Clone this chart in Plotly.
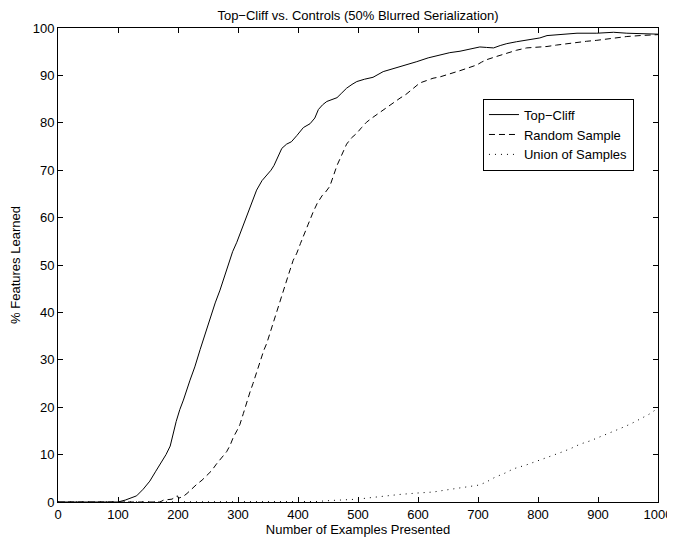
import plotly.graph_objects as go

top_x = [0, 100, 112, 122, 131, 142, 153, 163, 173, 180, 187, 190, 197, 203, 209, 220, 228, 237, 245, 253,
         262, 270, 277, 284, 291, 298, 306, 314, 322, 331, 340, 348, 355, 360, 366, 373, 381, 389, 398,
         409, 420, 428, 434, 441, 448, 459, 465, 473, 481, 490, 498, 511, 525, 542, 556, 570, 584, 598,
         617, 637, 653, 670, 687, 703, 714, 726, 737, 748, 764, 781, 792, 803, 815, 837, 865, 898, 926,
         948, 970, 1000]
top_y = [0, 0, 0.4, 0.8, 1.3, 2.7, 4.4, 6.5, 8.5, 10.0, 11.8, 13.5, 17.0, 19.5, 21.5, 25.7, 28.5, 32.2,
         35.5, 38.8, 42.0, 44.7, 47.5, 50.4, 52.8, 54.8, 57.4, 60.0, 63.0, 65.8, 67.8, 69.0, 70.0, 71.0,
         72.6, 74.6, 75.5, 76.0, 77.3, 79.0, 79.8, 81.0, 82.8, 83.8, 84.5, 85.0, 85.3, 86.3, 87.3, 88.1,
         88.7, 89.2, 89.6, 90.8, 91.3, 91.9, 92.4, 92.9, 93.7, 94.4, 94.8, 95.1, 95.6, 96.0, 95.9, 95.8,
         96.3, 96.7, 97.1, 97.5, 97.7, 97.9, 98.4, 98.6, 98.9, 98.9, 99.1, 98.9, 98.8, 98.7]

rand_x = [0, 170, 176, 190, 196, 199, 201, 209, 215, 223, 231, 240, 248, 256, 264, 272, 281, 287, 292,
          298, 303, 309, 315, 320, 325, 331, 337, 343, 348, 356, 364, 371, 378, 385, 392, 398, 404, 409,
          417, 425, 432, 440, 446, 453, 459, 465, 470, 476, 481, 489, 498, 506, 514, 522, 531, 539, 548,
          559, 570, 580, 589, 596, 603, 614, 625, 637, 648, 657, 665, 670, 684, 698, 706, 714, 731, 748,
          764, 781, 798, 815, 831, 848, 865, 881, 898, 915, 931, 948, 970, 992, 1000]
rand_y = [0, 0, 0.4, 0.6, 1.1, 1.3, 0.8, 1.2, 1.8, 2.8, 3.7, 4.6, 5.5, 6.6, 8.0, 9.3, 10.6, 12.0, 13.6,
          15.0, 16.3, 18.7, 21.4, 23.2, 25.0, 27.5, 29.8, 32.0, 33.5, 36.8, 39.8, 42.6, 45.4, 48.3, 51.0,
          52.5, 54.5, 56.2, 58.6, 61.1, 63.0, 64.6, 65.4, 66.6, 69.0, 71.0, 72.4, 74.3, 75.5, 76.8, 77.8,
          79.0, 80.1, 80.9, 81.7, 82.5, 83.4, 84.3, 85.2, 86.0, 87.0, 87.8, 88.4, 88.9, 89.4, 89.7, 90.1,
          90.4, 90.8, 91.0, 91.6, 92.2, 92.8, 93.3, 94.0, 94.7, 95.3, 95.8, 95.9, 96.1, 96.4, 96.7, 97.0,
          97.2, 97.4, 97.7, 97.9, 98.2, 98.4, 98.6, 98.6]

union_x = [0, 400, 430, 453, 480, 500, 520, 545, 570, 600, 625, 645, 664, 685, 703, 715, 728, 745, 759,
           780, 798, 818, 837, 855, 870, 887, 903, 920, 937, 955, 970, 985, 1000]
union_y = [0, 0, 0.1, 0.3, 0.4, 0.6, 0.9, 1.3, 1.6, 1.9, 2.1, 2.5, 2.9, 3.2, 3.6, 4.3, 5.2, 6.1, 7.0,
           7.8, 8.6, 9.5, 10.4, 11.3, 12.2, 12.9, 13.7, 14.6, 15.5, 16.5, 17.5, 18.5, 19.8]

series_names = ["Top\u2212Cliff", "Random Sample", "Union of Samples"]
x_ticks = list(range(0, 1001, 100))
y_ticks = list(range(0, 101, 10))

FONT = "Liberation Sans, Arial, Helvetica, sans-serif"
FS = 13

# the page body has an 8px default margin, so the figure is sized to fit inside the window
W, H = 667, 534

fig = go.Figure()
fig.add_trace(go.Scatter(x=top_x, y=top_y, mode="lines", name=series_names[0],
                         line=dict(color="black", width=1)))
fig.add_trace(go.Scatter(x=rand_x, y=rand_y, mode="lines", name=series_names[1],
                         line=dict(color="black", width=1, dash="6px,4px")))
fig.add_trace(go.Scatter(x=union_x, y=union_y, mode="lines", name=series_names[2],
                         line=dict(color="black", width=1, dash="1px,5px")))

axis_common = dict(showline=True, linecolor="black", linewidth=1, mirror="ticks",
                   ticks="inside", ticklen=5, tickcolor="black", tickwidth=1,
                   showgrid=False, zeroline=False, automargin=False,
                   tickfont=dict(family=FONT, size=FS, color="black"))

fig.update_layout(
    width=W, height=H,
    margin=dict(l=50, r=17, t=20, b=40),
    paper_bgcolor="white", plot_bgcolor="white",
    font=dict(family=FONT, size=FS, color="black"),
    title=dict(text="Top\u2212Cliff vs. Controls (50% Blurred Serialization)",
               x=0.5, xref="paper", y=1 - 7 / H, yref="container",
               xanchor="center", yanchor="middle",
               font=dict(family=FONT, size=FS, color="black")),
    xaxis=dict(range=[0, 1000], tickvals=x_ticks,
               title=dict(text="Number of Examples Presented", standoff=0,
                          font=dict(family=FONT, size=FS)),
               **axis_common),
    yaxis=dict(range=[0, 100], tickvals=y_ticks,
               title=dict(text="% Features Learned", standoff=11,
                          font=dict(family=FONT, size=FS)),
               **axis_common),
    legend=dict(x=0.7083, y=0.851, xanchor="left", yanchor="top",
                bordercolor="black", borderwidth=1, bgcolor="white",
                font=dict(family=FONT, size=FS, color="black"),
                itemwidth=30, tracegroupgap=0),
    showlegend=True,
)

fig.write_html("out.html")
